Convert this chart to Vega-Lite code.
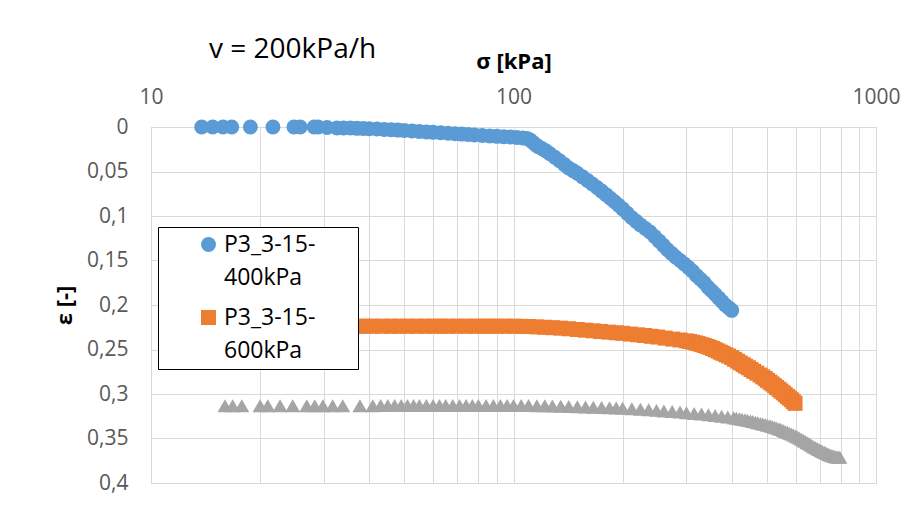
{
  "$schema": "https://vega.github.io/schema/vega-lite/v6.json",
  "width": 725,
  "height": 356,
  "autosize": {"type": "none"},
  "padding": {"left": 151, "top": 127, "right": 44, "bottom": 24},
  "background": "white",
  "title": {"text": "v = 200kPa/h", "anchor": "start", "frame": "group", "font": "Open Sans", "fontSize": 28, "fontWeight": "normal", "color": "#000000", "dx": 58, "offset": 0, "dy": 36, "baseline": "alphabetic"},
  "data": {"values": [
    {"series":"P3_3-15-400kPa","s":13.8,"e":0},{"series":"P3_3-15-400kPa","s":14.8,"e":0},{"series":"P3_3-15-400kPa","s":15.8,"e":0},{"series":"P3_3-15-400kPa","s":16.7,"e":0},{"series":"P3_3-15-400kPa","s":18.8,"e":0},{"series":"P3_3-15-400kPa","s":21.7,"e":0},{"series":"P3_3-15-400kPa","s":24.8,"e":0},{"series":"P3_3-15-400kPa","s":25.8,"e":0},{"series":"P3_3-15-400kPa","s":28.2,"e":0},{"series":"P3_3-15-400kPa","s":28.9,"e":0},{"series":"P3_3-15-400kPa","s":30.6,"e":0.0005},{"series":"P3_3-15-400kPa","s":32.6,"e":0.001},{"series":"P3_3-15-400kPa","s":34,"e":0.001},{"series":"P3_3-15-400kPa","s":35.5,"e":0.0012},{"series":"P3_3-15-400kPa","s":37,"e":0.0015},{"series":"P3_3-15-400kPa","s":38.5,"e":0.0017},{"series":"P3_3-15-400kPa","s":40,"e":0.002},{"series":"P3_3-15-400kPa","s":42,"e":0.0023},{"series":"P3_3-15-400kPa","s":44,"e":0.0027},{"series":"P3_3-15-400kPa","s":46,"e":0.003},{"series":"P3_3-15-400kPa","s":48,"e":0.0035},{"series":"P3_3-15-400kPa","s":50,"e":0.004},{"series":"P3_3-15-400kPa","s":52.5,"e":0.0045},{"series":"P3_3-15-400kPa","s":55,"e":0.005},{"series":"P3_3-15-400kPa","s":57.5,"e":0.0055},{"series":"P3_3-15-400kPa","s":60,"e":0.006},{"series":"P3_3-15-400kPa","s":63,"e":0.0065},{"series":"P3_3-15-400kPa","s":66,"e":0.007},{"series":"P3_3-15-400kPa","s":69,"e":0.0075},{"series":"P3_3-15-400kPa","s":72,"e":0.008},{"series":"P3_3-15-400kPa","s":75,"e":0.0085},{"series":"P3_3-15-400kPa","s":78,"e":0.009},{"series":"P3_3-15-400kPa","s":82,"e":0.0095},{"series":"P3_3-15-400kPa","s":86,"e":0.01},{"series":"P3_3-15-400kPa","s":90,"e":0.0105},{"series":"P3_3-15-400kPa","s":94,"e":0.011},{"series":"P3_3-15-400kPa","s":98,"e":0.0113},{"series":"P3_3-15-400kPa","s":102,"e":0.0117},{"series":"P3_3-15-400kPa","s":106,"e":0.0123},{"series":"P3_3-15-400kPa","s":109,"e":0.013},{"series":"P3_3-15-400kPa","s":111,"e":0.0145},{"series":"P3_3-15-400kPa","s":113,"e":0.017},{"series":"P3_3-15-400kPa","s":115,"e":0.02},{"series":"P3_3-15-400kPa","s":117,"e":0.022},{"series":"P3_3-15-400kPa","s":120,"e":0.0245},{"series":"P3_3-15-400kPa","s":123,"e":0.027},{"series":"P3_3-15-400kPa","s":126,"e":0.03},{"series":"P3_3-15-400kPa","s":130,"e":0.034},{"series":"P3_3-15-400kPa","s":134,"e":0.038},{"series":"P3_3-15-400kPa","s":138,"e":0.042},{"series":"P3_3-15-400kPa","s":142,"e":0.046},{"series":"P3_3-15-400kPa","s":146,"e":0.049},{"series":"P3_3-15-400kPa","s":150,"e":0.052},{"series":"P3_3-15-400kPa","s":155,"e":0.056},{"series":"P3_3-15-400kPa","s":160,"e":0.06},{"series":"P3_3-15-400kPa","s":165,"e":0.064},{"series":"P3_3-15-400kPa","s":170,"e":0.068},{"series":"P3_3-15-400kPa","s":175,"e":0.072},{"series":"P3_3-15-400kPa","s":180,"e":0.076},{"series":"P3_3-15-400kPa","s":185,"e":0.08},{"series":"P3_3-15-400kPa","s":190,"e":0.084},{"series":"P3_3-15-400kPa","s":195,"e":0.088},{"series":"P3_3-15-400kPa","s":200,"e":0.092},{"series":"P3_3-15-400kPa","s":206,"e":0.097},{"series":"P3_3-15-400kPa","s":212,"e":0.102},{"series":"P3_3-15-400kPa","s":218,"e":0.106},{"series":"P3_3-15-400kPa","s":224,"e":0.11},{"series":"P3_3-15-400kPa","s":231,"e":0.114},{"series":"P3_3-15-400kPa","s":238,"e":0.118},{"series":"P3_3-15-400kPa","s":245,"e":0.123},{"series":"P3_3-15-400kPa","s":252,"e":0.128},{"series":"P3_3-15-400kPa","s":259,"e":0.133},{"series":"P3_3-15-400kPa","s":266,"e":0.138},{"series":"P3_3-15-400kPa","s":273,"e":0.142},{"series":"P3_3-15-400kPa","s":280,"e":0.146},{"series":"P3_3-15-400kPa","s":288,"e":0.15},{"series":"P3_3-15-400kPa","s":296,"e":0.154},{"series":"P3_3-15-400kPa","s":304,"e":0.158},{"series":"P3_3-15-400kPa","s":312,"e":0.162},{"series":"P3_3-15-400kPa","s":320,"e":0.167},{"series":"P3_3-15-400kPa","s":328,"e":0.171},{"series":"P3_3-15-400kPa","s":336,"e":0.175},{"series":"P3_3-15-400kPa","s":344,"e":0.18},{"series":"P3_3-15-400kPa","s":352,"e":0.184},{"series":"P3_3-15-400kPa","s":360,"e":0.188},{"series":"P3_3-15-400kPa","s":368,"e":0.192},{"series":"P3_3-15-400kPa","s":376,"e":0.196},{"series":"P3_3-15-400kPa","s":384,"e":0.2},{"series":"P3_3-15-400kPa","s":392,"e":0.203},{"series":"P3_3-15-400kPa","s":400,"e":0.206},
    {"series":"P3_3-15-600kPa","s":15,"e":0.2238},{"series":"P3_3-15-600kPa","s":16.5,"e":0.2238},{"series":"P3_3-15-600kPa","s":18,"e":0.2238},{"series":"P3_3-15-600kPa","s":20,"e":0.2238},{"series":"P3_3-15-600kPa","s":22,"e":0.2238},{"series":"P3_3-15-600kPa","s":24.5,"e":0.2238},{"series":"P3_3-15-600kPa","s":27,"e":0.2238},{"series":"P3_3-15-600kPa","s":29,"e":0.2238},{"series":"P3_3-15-600kPa","s":31,"e":0.2238},{"series":"P3_3-15-600kPa","s":33,"e":0.2238},{"series":"P3_3-15-600kPa","s":35,"e":0.2238},{"series":"P3_3-15-600kPa","s":37,"e":0.2238},{"series":"P3_3-15-600kPa","s":39,"e":0.2238},{"series":"P3_3-15-600kPa","s":41,"e":0.2238},{"series":"P3_3-15-600kPa","s":43.5,"e":0.2238},{"series":"P3_3-15-600kPa","s":46,"e":0.2238},{"series":"P3_3-15-600kPa","s":48.5,"e":0.2238},{"series":"P3_3-15-600kPa","s":51,"e":0.2238},{"series":"P3_3-15-600kPa","s":54,"e":0.2238},{"series":"P3_3-15-600kPa","s":57,"e":0.2238},{"series":"P3_3-15-600kPa","s":60,"e":0.2238},{"series":"P3_3-15-600kPa","s":63,"e":0.2238},{"series":"P3_3-15-600kPa","s":66,"e":0.2238},{"series":"P3_3-15-600kPa","s":70,"e":0.2238},{"series":"P3_3-15-600kPa","s":74,"e":0.2238},{"series":"P3_3-15-600kPa","s":78,"e":0.2238},{"series":"P3_3-15-600kPa","s":82,"e":0.2238},{"series":"P3_3-15-600kPa","s":86,"e":0.2238},{"series":"P3_3-15-600kPa","s":90,"e":0.2238},{"series":"P3_3-15-600kPa","s":95,"e":0.2238},{"series":"P3_3-15-600kPa","s":100,"e":0.2238},{"series":"P3_3-15-600kPa","s":105,"e":0.224},{"series":"P3_3-15-600kPa","s":110,"e":0.2242},{"series":"P3_3-15-600kPa","s":116,"e":0.2246},{"series":"P3_3-15-600kPa","s":122,"e":0.225},{"series":"P3_3-15-600kPa","s":128,"e":0.2255},{"series":"P3_3-15-600kPa","s":135,"e":0.226},{"series":"P3_3-15-600kPa","s":142,"e":0.2267},{"series":"P3_3-15-600kPa","s":150,"e":0.2275},{"series":"P3_3-15-600kPa","s":158,"e":0.2283},{"series":"P3_3-15-600kPa","s":166,"e":0.229},{"series":"P3_3-15-600kPa","s":174,"e":0.2298},{"series":"P3_3-15-600kPa","s":183,"e":0.2305},{"series":"P3_3-15-600kPa","s":192,"e":0.2312},{"series":"P3_3-15-600kPa","s":200,"e":0.2318},{"series":"P3_3-15-600kPa","s":210,"e":0.2327},{"series":"P3_3-15-600kPa","s":220,"e":0.2335},{"series":"P3_3-15-600kPa","s":230,"e":0.2343},{"series":"P3_3-15-600kPa","s":240,"e":0.2352},{"series":"P3_3-15-600kPa","s":250,"e":0.236},{"series":"P3_3-15-600kPa","s":262,"e":0.2372},{"series":"P3_3-15-600kPa","s":275,"e":0.2383},{"series":"P3_3-15-600kPa","s":288,"e":0.2393},{"series":"P3_3-15-600kPa","s":300,"e":0.2403},{"series":"P3_3-15-600kPa","s":306,"e":0.241},{"series":"P3_3-15-600kPa","s":312,"e":0.2418},{"series":"P3_3-15-600kPa","s":318,"e":0.2426},{"series":"P3_3-15-600kPa","s":324,"e":0.2435},{"series":"P3_3-15-600kPa","s":330,"e":0.2445},{"series":"P3_3-15-600kPa","s":336,"e":0.2455},{"series":"P3_3-15-600kPa","s":342,"e":0.2465},{"series":"P3_3-15-600kPa","s":348,"e":0.2476},{"series":"P3_3-15-600kPa","s":354,"e":0.2489},{"series":"P3_3-15-600kPa","s":360,"e":0.2502},{"series":"P3_3-15-600kPa","s":366,"e":0.2516},{"series":"P3_3-15-600kPa","s":372,"e":0.253},{"series":"P3_3-15-600kPa","s":378,"e":0.2543},{"series":"P3_3-15-600kPa","s":385,"e":0.2558},{"series":"P3_3-15-600kPa","s":392,"e":0.2573},{"series":"P3_3-15-600kPa","s":400,"e":0.259},{"series":"P3_3-15-600kPa","s":407,"e":0.261},{"series":"P3_3-15-600kPa","s":415,"e":0.263},{"series":"P3_3-15-600kPa","s":422,"e":0.265},{"series":"P3_3-15-600kPa","s":430,"e":0.267},{"series":"P3_3-15-600kPa","s":437,"e":0.2688},{"series":"P3_3-15-600kPa","s":445,"e":0.2705},{"series":"P3_3-15-600kPa","s":452,"e":0.2725},{"series":"P3_3-15-600kPa","s":460,"e":0.2745},{"series":"P3_3-15-600kPa","s":469,"e":0.2765},{"series":"P3_3-15-600kPa","s":479,"e":0.2787},{"series":"P3_3-15-600kPa","s":487,"e":0.2807},{"series":"P3_3-15-600kPa","s":495,"e":0.2827},{"series":"P3_3-15-600kPa","s":502,"e":0.2847},{"series":"P3_3-15-600kPa","s":510,"e":0.2867},{"series":"P3_3-15-600kPa","s":517,"e":0.2887},{"series":"P3_3-15-600kPa","s":525,"e":0.2907},{"series":"P3_3-15-600kPa","s":532,"e":0.2927},{"series":"P3_3-15-600kPa","s":540,"e":0.2947},{"series":"P3_3-15-600kPa","s":547,"e":0.2967},{"series":"P3_3-15-600kPa","s":555,"e":0.2987},{"series":"P3_3-15-600kPa","s":562,"e":0.3007},{"series":"P3_3-15-600kPa","s":570,"e":0.3027},{"series":"P3_3-15-600kPa","s":577,"e":0.3046},{"series":"P3_3-15-600kPa","s":585,"e":0.3065},{"series":"P3_3-15-600kPa","s":591,"e":0.3085},{"series":"P3_3-15-600kPa","s":598,"e":0.3105},
    {"series":"P3_3-15-800kPa","s":16.0,"e":0.3131},{"series":"P3_3-15-800kPa","s":16.8,"e":0.3131},{"series":"P3_3-15-800kPa","s":17.8,"e":0.3131},{"series":"P3_3-15-800kPa","s":20.0,"e":0.3131},{"series":"P3_3-15-800kPa","s":21.0,"e":0.3131},{"series":"P3_3-15-800kPa","s":22.7,"e":0.3131},{"series":"P3_3-15-800kPa","s":24.6,"e":0.3131},{"series":"P3_3-15-800kPa","s":26.9,"e":0.3131},{"series":"P3_3-15-800kPa","s":28.3,"e":0.3131},{"series":"P3_3-15-800kPa","s":29.8,"e":0.3131},{"series":"P3_3-15-800kPa","s":31.7,"e":0.3131},{"series":"P3_3-15-800kPa","s":33.8,"e":0.3131},{"series":"P3_3-15-800kPa","s":37.7,"e":0.3131},{"series":"P3_3-15-800kPa","s":40.9,"e":0.3131},{"series":"P3_3-15-800kPa","s":43,"e":0.313},{"series":"P3_3-15-800kPa","s":45,"e":0.313},{"series":"P3_3-15-800kPa","s":47,"e":0.313},{"series":"P3_3-15-800kPa","s":49,"e":0.313},{"series":"P3_3-15-800kPa","s":51,"e":0.313},{"series":"P3_3-15-800kPa","s":53,"e":0.313},{"series":"P3_3-15-800kPa","s":55,"e":0.313},{"series":"P3_3-15-800kPa","s":57.5,"e":0.313},{"series":"P3_3-15-800kPa","s":60,"e":0.3129},{"series":"P3_3-15-800kPa","s":62.5,"e":0.3129},{"series":"P3_3-15-800kPa","s":65,"e":0.3129},{"series":"P3_3-15-800kPa","s":68,"e":0.3128},{"series":"P3_3-15-800kPa","s":71,"e":0.3128},{"series":"P3_3-15-800kPa","s":74,"e":0.3128},{"series":"P3_3-15-800kPa","s":77,"e":0.3128},{"series":"P3_3-15-800kPa","s":80,"e":0.3128},{"series":"P3_3-15-800kPa","s":84,"e":0.3128},{"series":"P3_3-15-800kPa","s":88,"e":0.3128},{"series":"P3_3-15-800kPa","s":92,"e":0.3128},{"series":"P3_3-15-800kPa","s":96,"e":0.3128},{"series":"P3_3-15-800kPa","s":100,"e":0.3128},{"series":"P3_3-15-800kPa","s":105,"e":0.3129},{"series":"P3_3-15-800kPa","s":110,"e":0.313},{"series":"P3_3-15-800kPa","s":116,"e":0.3131},{"series":"P3_3-15-800kPa","s":122,"e":0.3133},{"series":"P3_3-15-800kPa","s":128,"e":0.3135},{"series":"P3_3-15-800kPa","s":135,"e":0.3137},{"series":"P3_3-15-800kPa","s":142,"e":0.314},{"series":"P3_3-15-800kPa","s":150,"e":0.3143},{"series":"P3_3-15-800kPa","s":158,"e":0.3146},{"series":"P3_3-15-800kPa","s":166,"e":0.3149},{"series":"P3_3-15-800kPa","s":175,"e":0.3152},{"series":"P3_3-15-800kPa","s":184,"e":0.3155},{"series":"P3_3-15-800kPa","s":192,"e":0.3158},{"series":"P3_3-15-800kPa","s":200,"e":0.316},{"series":"P3_3-15-800kPa","s":212,"e":0.3166},{"series":"P3_3-15-800kPa","s":224,"e":0.3172},{"series":"P3_3-15-800kPa","s":236,"e":0.3178},{"series":"P3_3-15-800kPa","s":248,"e":0.3184},{"series":"P3_3-15-800kPa","s":260,"e":0.319},{"series":"P3_3-15-800kPa","s":274,"e":0.3196},{"series":"P3_3-15-800kPa","s":288,"e":0.3203},{"series":"P3_3-15-800kPa","s":300,"e":0.321},{"series":"P3_3-15-800kPa","s":315,"e":0.3218},{"series":"P3_3-15-800kPa","s":330,"e":0.3226},{"series":"P3_3-15-800kPa","s":345,"e":0.3234},{"series":"P3_3-15-800kPa","s":360,"e":0.3242},{"series":"P3_3-15-800kPa","s":375,"e":0.325},{"series":"P3_3-15-800kPa","s":390,"e":0.3258},{"series":"P3_3-15-800kPa","s":405,"e":0.3267},{"series":"P3_3-15-800kPa","s":412,"e":0.3272},{"series":"P3_3-15-800kPa","s":420,"e":0.3277},{"series":"P3_3-15-800kPa","s":427,"e":0.3283},{"series":"P3_3-15-800kPa","s":435,"e":0.3289},{"series":"P3_3-15-800kPa","s":442,"e":0.3295},{"series":"P3_3-15-800kPa","s":450,"e":0.3302},{"series":"P3_3-15-800kPa","s":457,"e":0.3309},{"series":"P3_3-15-800kPa","s":465,"e":0.3316},{"series":"P3_3-15-800kPa","s":472,"e":0.3323},{"series":"P3_3-15-800kPa","s":480,"e":0.333},{"series":"P3_3-15-800kPa","s":487,"e":0.3336},{"series":"P3_3-15-800kPa","s":495,"e":0.3343},{"series":"P3_3-15-800kPa","s":502,"e":0.335},{"series":"P3_3-15-800kPa","s":510,"e":0.3357},{"series":"P3_3-15-800kPa","s":517,"e":0.3365},{"series":"P3_3-15-800kPa","s":525,"e":0.3373},{"series":"P3_3-15-800kPa","s":532,"e":0.3381},{"series":"P3_3-15-800kPa","s":540,"e":0.339},{"series":"P3_3-15-800kPa","s":547,"e":0.34},{"series":"P3_3-15-800kPa","s":555,"e":0.341},{"series":"P3_3-15-800kPa","s":562,"e":0.342},{"series":"P3_3-15-800kPa","s":570,"e":0.343},{"series":"P3_3-15-800kPa","s":577,"e":0.344},{"series":"P3_3-15-800kPa","s":585,"e":0.345},{"series":"P3_3-15-800kPa","s":592,"e":0.3461},{"series":"P3_3-15-800kPa","s":600,"e":0.3472},{"series":"P3_3-15-800kPa","s":607,"e":0.3483},{"series":"P3_3-15-800kPa","s":615,"e":0.3495},{"series":"P3_3-15-800kPa","s":622,"e":0.3507},{"series":"P3_3-15-800kPa","s":630,"e":0.352},{"series":"P3_3-15-800kPa","s":637,"e":0.3532},{"series":"P3_3-15-800kPa","s":645,"e":0.3545},{"series":"P3_3-15-800kPa","s":652,"e":0.3557},{"series":"P3_3-15-800kPa","s":660,"e":0.357},{"series":"P3_3-15-800kPa","s":667,"e":0.3582},{"series":"P3_3-15-800kPa","s":675,"e":0.3595},{"series":"P3_3-15-800kPa","s":682,"e":0.3605},{"series":"P3_3-15-800kPa","s":690,"e":0.3615},{"series":"P3_3-15-800kPa","s":697,"e":0.3625},{"series":"P3_3-15-800kPa","s":705,"e":0.3635},{"series":"P3_3-15-800kPa","s":712,"e":0.3645},{"series":"P3_3-15-800kPa","s":720,"e":0.3655},{"series":"P3_3-15-800kPa","s":727,"e":0.3664},{"series":"P3_3-15-800kPa","s":735,"e":0.3672},{"series":"P3_3-15-800kPa","s":742,"e":0.368},{"series":"P3_3-15-800kPa","s":750,"e":0.3688},{"series":"P3_3-15-800kPa","s":757,"e":0.3694},{"series":"P3_3-15-800kPa","s":765,"e":0.37},{"series":"P3_3-15-800kPa","s":772,"e":0.3704},{"series":"P3_3-15-800kPa","s":780,"e":0.3708},{"series":"P3_3-15-800kPa","s":787,"e":0.371},{"series":"P3_3-15-800kPa","s":795,"e":0.3712}
  ]},
  "mark": {"type": "point", "filled": true, "opacity": 1},
  "encoding": {
    "x": {
      "field": "s", "type": "quantitative",
      "scale": {"type": "log", "domain": [10, 1000], "nice": false},
      "axis": {
        "orient": "top", "title": "σ [kPa]", "titleFont": "Open Sans", "titleFontSize": 22, "titleFontWeight": "bold", "titleColor": "#000000", "titlePadding": 13,
        "values": [10,20,30,40,50,60,70,80,90,100,200,300,400,500,600,700,800,900,1000],
        "format": "d",
        "labelExpr": "indexof([10,100,1000], datum.value) >= 0 ? datum.label : ''",
        "labelFont": "Open Sans", "labelFontSize": 21, "labelColor": "#595959", "labelPadding": 20, "labelFlush": false, "labelOverlap": false,
        "ticks": false, "domain": false, "grid": true, "gridColor": "#d9d9d9"
      }
    },
    "y": {
      "field": "e", "type": "quantitative",
      "scale": {"domain": [0, 0.4], "reverse": true, "nice": false, "zero": false},
      "axis": {
        "title": "ε [-]", "titleFont": "Open Sans", "titleFontSize": 22, "titleFontWeight": "bold", "titleColor": "#000000", "titlePadding": 10,
        "values": [0, 0.05, 0.1, 0.15, 0.2, 0.25, 0.3, 0.35, 0.4],
        "format": ".2~f",
        "labelExpr": "replace(datum.label, '.', ',')",
        "labelFont": "Open Sans", "labelFontSize": 21, "labelColor": "#595959", "labelPadding": 23, "labelFlush": false, "labelOverlap": false,
        "ticks": false, "domain": false, "grid": true, "gridColor": "#d9d9d9"
      }
    },
    "size": {
      "field": "series", "type": "nominal",
      "scale": {"domain": ["P3_3-15-400kPa", "P3_3-15-600kPa", "P3_3-15-800kPa"], "range": [225, 225, 285]},
      "legend": null
    },
    "color": {
      "field": "series", "type": "nominal",
      "scale": {"domain": ["P3_3-15-400kPa", "P3_3-15-600kPa", "P3_3-15-800kPa"], "range": ["#5b9bd5", "#ed7d31", "#a5a5a5"]},
      "legend": {"orient": "none", "legendX": 7, "legendY": 100, "values": ["P3_3-15-400kPa", "P3_3-15-600kPa"], "title": null,
        "labelExpr": "[slice(datum.label, 0, 8) + '\u00a0\u00a0\u00a0\u00a0\u00a0\u00a0\u200b', slice(datum.label, 8)]",
        "labelFont": "Open Sans", "labelFontSize": 23, "labelColor": "#000000", "labelLimit": 0, "labelBaseline": "middle",
        "strokeColor": "#000000", "fillColor": "#ffffff", "padding": 6, "symbolOffset": 33, "labelOffset": 4, "rowPadding": 16, "symbolSize": 225}
    },
    "shape": {
      "field": "series", "type": "nominal",
      "scale": {"domain": ["P3_3-15-400kPa", "P3_3-15-600kPa", "P3_3-15-800kPa"], "range": ["circle", "square", "triangle-up"]},
      "legend": {"orient": "none", "legendX": 7, "legendY": 100, "values": ["P3_3-15-400kPa", "P3_3-15-600kPa"], "title": null,
        "labelExpr": "[slice(datum.label, 0, 8) + '\u00a0\u00a0\u00a0\u00a0\u00a0\u00a0\u200b', slice(datum.label, 8)]",
        "labelFont": "Open Sans", "labelFontSize": 23, "labelColor": "#000000", "labelLimit": 0, "labelBaseline": "middle",
        "strokeColor": "#000000", "fillColor": "#ffffff", "padding": 6, "symbolOffset": 33, "labelOffset": 4, "rowPadding": 16, "symbolSize": 225}
    }
  },
  "config": {
    "font": "Open Sans",
    "view": {"stroke": "#d9d9d9"},
    "style": {"guide-label": {"lineHeight": 33}}
  }
}
